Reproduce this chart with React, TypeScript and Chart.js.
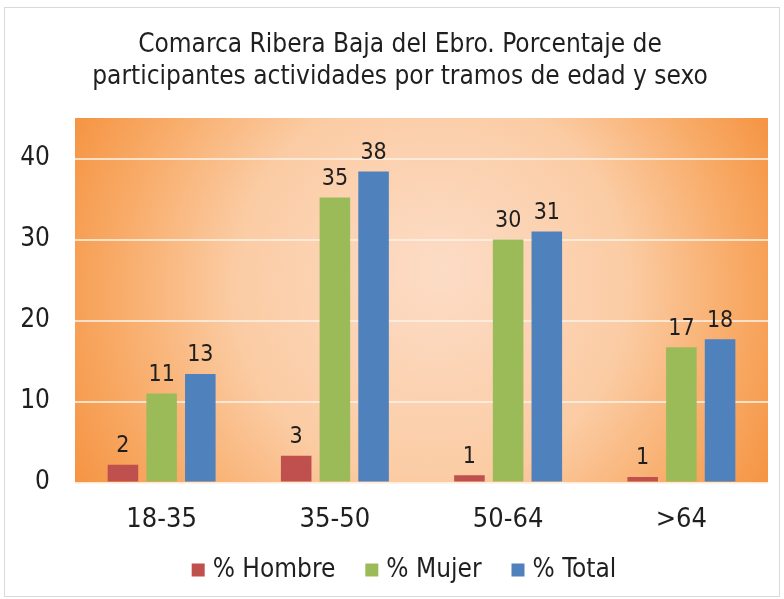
import React, { useEffect, useRef } from "react";
import { Chart, registerables } from "chart.js";

Chart.register(...registerables);

const categories = ["18-35", "35-50", "50-64", ">64"];
const hombre = [2.2, 3.3, 0.9, 0.7];
const mujer = [11.0, 35.2, 30.0, 16.7];
const total = [13.4, 38.4, 31.0, 17.7];
const seriesLabels = ["% Hombre", "% Mujer", "% Total"];
const seriesColors = ["#c0504d", "#9bbb59", "#4f81bd"];
const titleLines = [
  "Comarca Ribera Baja del Ebro. Porcentaje de",
  "participantes actividades por tramos de edad y sexo",
];

const FONT = "'DejaVu Sans Condensed', 'DejaVu Sans', Tahoma, sans-serif";
const TEXT = "#1f1f1f";

const bgPlugin = {
  id: "bgPlugin",
  beforeDraw(chart: any) {
    const { ctx, chartArea, width, height } = chart;
    ctx.save();
    ctx.fillStyle = "#ffffff";
    ctx.fillRect(0, 0, width, height);
    ctx.strokeStyle = "#d9d9d9";
    ctx.lineWidth = 1;
    ctx.strokeRect(4.5, 7.5, width - 9, height - 10);
    const { left, top, right, bottom } = chartArea;
    const cx = (left + right) / 2;
    const cy = (top + bottom) / 2;
    const r = Math.sqrt(((right - left) / 2) ** 2 + ((bottom - top) / 2) ** 2);
    const g = ctx.createRadialGradient(cx + 20, cy - 30, 0, cx, cy, r);
    g.addColorStop(0, "#fcdcc6");
    g.addColorStop(0.5, "#fbcca4");
    g.addColorStop(0.8, "#f8aa66");
    g.addColorStop(1, "#f59443");
    ctx.fillStyle = g;
    ctx.fillRect(left, top, right - left, bottom - top);
    ctx.restore();
  },
};

const labelPlugin = {
  id: "labelPlugin",
  afterDatasetsDraw(chart: any) {
    const { ctx } = chart;
    ctx.save();
    ctx.font = `23px ${FONT}`;
    ctx.fillStyle = TEXT;
    ctx.textAlign = "center";
    ctx.textBaseline = "bottom";
    chart.data.datasets.forEach((ds: any, i: number) => {
      const meta = chart.getDatasetMeta(i);
      meta.data.forEach((bar: any, j: number) => {
        const v = ds.data[j];
        ctx.fillText(String(Math.round(v)), bar.x, bar.y - 7);
      });
    });
    ctx.restore();
  },
};

const titleLegendPlugin = {
  id: "titleLegendPlugin",
  afterDraw(chart: any) {
    const { ctx } = chart;
    ctx.save();
    ctx.fillStyle = TEXT;
    ctx.font = `26px ${FONT}`;
    ctx.textAlign = "center";
    ctx.textBaseline = "middle";
    ctx.fillText(titleLines[0], 400, 45);
    ctx.fillText(titleLines[1], 400, 77);

    // legend
    ctx.font = `26px ${FONT}`;
    ctx.textAlign = "left";
    const box = 13;
    const gap = 8;
    const itemGap = 30;
    const widths = chart.data.datasets.map((ds: any) => box + gap + ctx.measureText(ds.label).width);
    const totalW = widths.reduce((a: number, b: number) => a + b, 0) + itemGap * (widths.length - 1);
    let x = 404 - totalW / 2;
    const y = 570;
    chart.data.datasets.forEach((ds: any, i: number) => {
      ctx.fillStyle = ds.backgroundColor;
      ctx.fillRect(x, y - box / 2, box, box);
      ctx.fillStyle = TEXT;
      ctx.fillText(ds.label, x + box + gap, y);
      x += widths[i] + itemGap;
    });
    ctx.restore();
  },
};

export default function App() {
  const ref = useRef<HTMLCanvasElement>(null);
  useEffect(() => {
    if (!ref.current) return;
    const chart = new Chart(ref.current, {
      type: "bar",
      data: {
        labels: categories,
        datasets: [
          { label: seriesLabels[0], data: hombre, backgroundColor: seriesColors[0] },
          { label: seriesLabels[1], data: mujer, backgroundColor: seriesColors[1] },
          { label: seriesLabels[2], data: total, backgroundColor: seriesColors[2] },
        ],
      },
      options: {
        animation: false,
        responsive: false,
        maintainAspectRatio: false,
        layout: { padding: { left: 2, right: 16, top: 118, bottom: 50 } },
        datasets: { bar: { categoryPercentage: 0.67, barPercentage: 0.79 } },
        plugins: {
          title: { display: false },
          legend: { display: false },
          tooltip: { enabled: false },
        },
        scales: {
          x: {
            grid: { display: false },
            border: { display: false },
            ticks: { color: TEXT, font: { family: FONT, size: 27 }, padding: 13 },
          },
          y: {
            min: 0,
            max: 45,
            afterBuildTicks: (axis: any) => {
              axis.ticks = axis.ticks.filter((t: any) => t.value % 10 === 0);
            },
            afterFit: (axis: any) => {
              axis.width = 73;
            },
            ticks: { stepSize: 10, color: TEXT, font: { family: FONT, size: 26 }, padding: 25 },
            grid: { color: "rgba(255,240,228,0.8)", lineWidth: 2, drawTicks: false },
            border: { display: false },
          },
        },
      },
      plugins: [bgPlugin, labelPlugin, titleLegendPlugin],
    });
    return () => chart.destroy();
  }, []);
  return (
    <div style={{ position: "absolute", left: 0, top: 0, width: 784, height: 599 }}>
      <canvas ref={ref} width={784} height={599} style={{ width: 784, height: 599 }} />
    </div>
  );
}
